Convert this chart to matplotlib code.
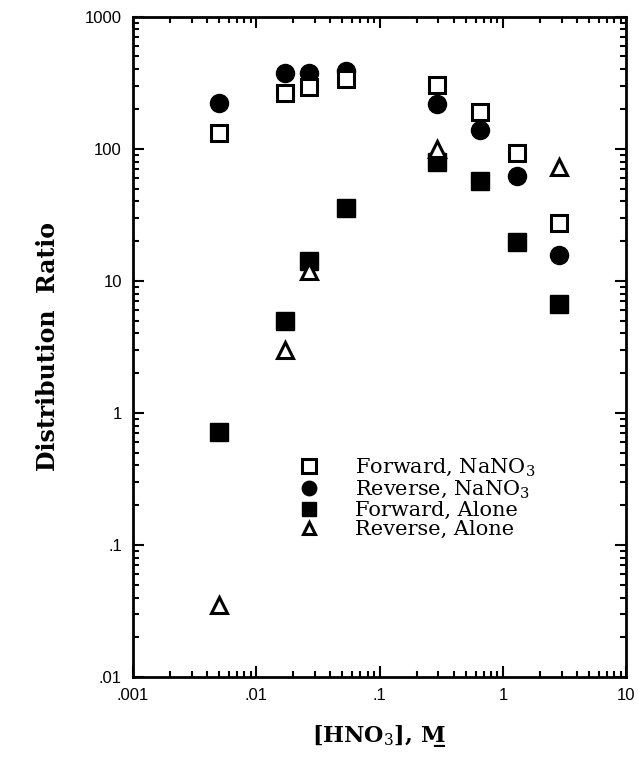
import matplotlib
matplotlib.use("Agg")
import matplotlib.pyplot as plt
import matplotlib.ticker as tck

plt.rcParams['mathtext.fontset'] = 'dejavuserif'

# [HNO3], M
x_all = [0.005, 0.017, 0.027, 0.053, 0.29, 0.65, 1.3, 2.85]
x_ra = [0.005, 0.017, 0.027, 0.29, 2.85]

fwd_nano3 = [132, 265, 295, 340, 305, 191, 93, 27.5]
rev_nano3 = [223, 377, 377, 390, 219, 139, 62, 15.7]
fwd_alone = [0.72, 5.0, 14.2, 35.7, 80, 57, 19.7, 6.7]
rev_alone = [0.035, 3.0, 11.9, 100, 73]

xticks = [0.001, 0.01, 0.1, 1, 10]
xticklabels = ['.001', '.01', '.1', '1', '10']
yticks = [0.01, 0.1, 1, 10, 100, 1000]
yticklabels = ['.01', '.1', '1', '10', '100', '1000']

fig = plt.figure(figsize=(6.39, 7.59), dpi=100)
ax = fig.add_axes([0.208, 0.108, 0.772, 0.870])

ax.plot(x_all, fwd_nano3, 's', ms=12, mfc='white', mec='black', mew=2.2,
        label='Forward, NaNO$_3$', zorder=4)
ax.plot(x_all, rev_nano3, 'o', ms=13, color='black',
        label='Reverse, NaNO$_3$', zorder=3)
ax.plot(x_all, fwd_alone, 's', ms=13, color='black',
        label='Forward, Alone', zorder=3)
ax.plot(x_ra, rev_alone, '^', ms=11, mfc='white', mec='black', mew=2.2,
        label='Reverse, Alone', zorder=5)

ax.set_xscale('log')
ax.set_yscale('log')
ax.set_xlim(0.001, 10)
ax.set_ylim(0.01, 1000)

ax.set_xticks(xticks)
ax.set_xticklabels(xticklabels)
ax.set_yticks(yticks)
ax.set_yticklabels(yticklabels)
ax.xaxis.set_minor_locator(tck.LogLocator(base=10, subs=range(2, 10), numticks=20))
ax.yaxis.set_minor_locator(tck.LogLocator(base=10, subs=range(2, 10), numticks=20))
ax.xaxis.set_minor_formatter(tck.NullFormatter())
ax.yaxis.set_minor_formatter(tck.NullFormatter())

ax.tick_params(which='both', direction='in', top=True, right=True,
               labelsize=12, width=1.5, pad=8)
ax.tick_params(which='major', length=8)
ax.tick_params(which='minor', length=4)
for lab in ax.get_xticklabels() + ax.get_yticklabels():
    lab.set_family('Liberation Sans')
for s in ax.spines.values():
    s.set_linewidth(2)

ax.set_xlabel('[HNO$_3$], M\u0332', family='DejaVu Serif', fontweight='bold',
              fontsize=16, labelpad=14)
ax.set_ylabel('Distribution  Ratio', family='DejaVu Serif', fontweight='bold',
              fontsize=17, labelpad=18)

leg = ax.legend(loc='center left', bbox_to_anchor=(0.315, 0.271), frameon=False,
                prop={'family': 'DejaVu Serif', 'size': 15}, borderpad=0,
                handletextpad=1.7, labelspacing=0.02, handlelength=1.0,
                markerscale=0.8)

fig.savefig('out.png', dpi=100)
